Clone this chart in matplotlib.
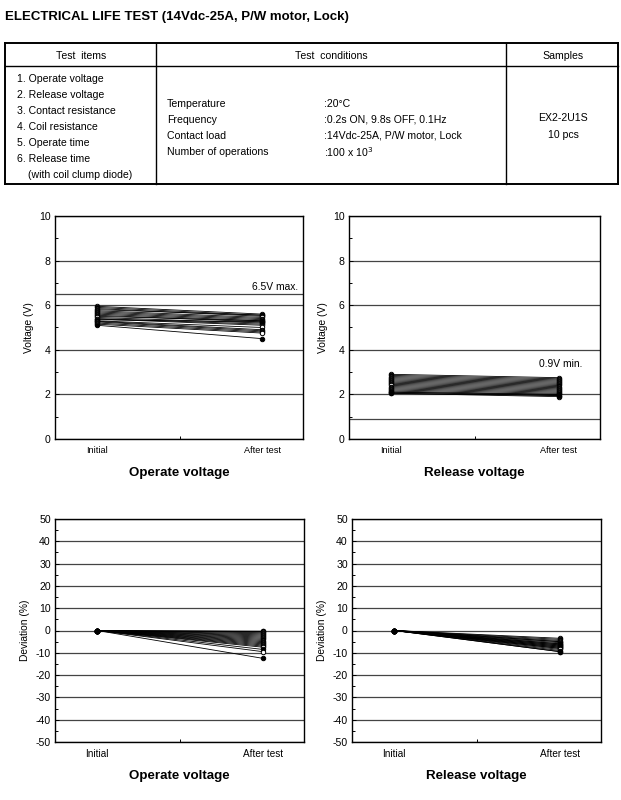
import matplotlib.pyplot as plt
from matplotlib.ticker import MultipleLocator, FixedLocator
from matplotlib.lines import Line2D

plt.rcParams['font.family'] = ['Liberation Sans', 'DejaVu Sans']
plt.rcParams['axes.unicode_minus'] = False

W, H = 621, 800

# data (20 lines per chart)
etapas = ["Initial", "After test"]
op_inicial = [5.95, 5.9, 5.85, 5.8, 5.75, 5.7, 5.65, 5.6, 5.55, 5.5,
              5.45, 5.4, 5.38, 5.35, 5.3, 5.28, 5.25, 5.2, 5.15, 5.1]
op_despues = [5.6, 5.55, 5.5, 5.55, 5.45, 5.4, 5.35, 5.3, 5.25, 5.3,
              5.2, 5.15, 5.1, 5.25, 5.0, 4.9, 4.85, 4.8, 4.75, 4.5]
rel_inicial = [2.9, 2.85, 2.8, 2.75, 2.7, 2.65, 2.6, 2.55, 2.5, 2.45,
               2.4, 2.35, 2.3, 2.25, 2.2, 2.15, 2.1, 2.1, 2.05, 2.05]
rel_despues = [2.75, 2.7, 2.65, 2.6, 2.55, 2.5, 2.45, 2.4, 2.35, 2.3,
               2.25, 2.2, 2.15, 2.1, 2.05, 2.0, 1.95, 2.0, 1.9, 1.95]
op_desv = [0, -0.3, -0.5, -1, -1.5, -2, -2.5, -3, -3.5, -4,
           -4.5, -5, -5.5, -6, -6.5, -7, -7.5, -8.5, -9.5, -12.5]
rel_desv = [-3.5, -4, -4.5, -5, -5, -5.5, -6, -6, -6.5, -6.5,
            -7, -7, -7.5, -7.5, -8, -8, -8.5, -9, -9.5, -9.5]

items = ["1. Operate voltage", "2. Release voltage", "3. Contact resistance",
         "4. Coil resistance", "5. Operate time", "6. Release time"]
cond_nombres = ["Temperature", "Frequency", "Contact load", "Number of operations"]
cond_valores = [":20°C", ":0.2s ON, 9.8s OFF, 0.1Hz", ":14Vdc-25A, P/W motor, Lock",
                ":100 x 10$^{3}$"]

fig = plt.figure(figsize=(W / 100, H / 100), dpi=100)


def px(x, y):
    return x / W, 1 - y / H


def rect(l, t, r, b):
    return [l / W, 1 - b / H, (r - l) / W, (b - t) / H]


# titulo
fig.text(*px(5, 17), "ELECTRICAL LIFE TEST (14Vdc-25A, P/W motor, Lock)",
         fontsize=9.5, fontweight='bold', va='center', ha='left')

# tabla
def linea(x0, y0, x1, y1, lw=0.8):
    fig.add_artist(Line2D([x0 / W, x1 / W], [1 - y0 / H, 1 - y1 / H], color='black', lw=lw))


linea(5, 43, 618, 43, 1.4)
linea(5, 184, 618, 184, 1.4)
linea(5, 43, 5, 184, 1.4)
linea(618, 43, 618, 184, 1.4)
linea(5, 66, 618, 66, 1.0)
linea(156, 43, 156, 184, 1.0)
linea(506, 43, 506, 184, 1.0)

fs = 7.6
fig.text(*px(81, 56), "Test  items", fontsize=fs, ha='center', va='center')
fig.text(*px(331, 56), "Test  conditions", fontsize=fs, ha='center', va='center')
fig.text(*px(563, 56), "Samples", fontsize=fs, ha='center', va='center')
for i, t in enumerate(items):
    fig.text(*px(17, 79 + i * 16), t, fontsize=fs, ha='left', va='center')
fig.text(*px(28, 175), "(with coil clump diode)", fontsize=fs, ha='left', va='center')
for i in range(len(cond_nombres)):
    fig.text(*px(167, 104 + i * 16), cond_nombres[i], fontsize=fs, ha='left', va='center')
    fig.text(*px(324, 104 + i * 16), cond_valores[i], fontsize=fs, ha='left', va='center')
fig.text(*px(563, 118), "EX2-2U1S", fontsize=fs, ha='center', va='center')
fig.text(*px(563, 135), "10 pcs", fontsize=fs, ha='center', va='center')


def grafica(r, inicial, despues, ylim, paso, ylabel, titulo, limite=None, texto=None, tx=None, ty=None,
            xfs=6.6):
    ax = fig.add_axes(rect(*r))
    for k in range(len(inicial)):
        cara = 'white' if k % 2 == 0 else 'black'
        ax.plot([0, 1], [inicial[k], despues[k]], color='black', lw=0.6,
                marker='o', ms=3.2, mfc=cara, mec='black', mew=0.7, zorder=3)
    ax.set_xlim(-0.254, 1.247)
    ax.set_ylim(*ylim)
    ax.yaxis.set_major_locator(MultipleLocator(paso))
    ax.yaxis.set_minor_locator(MultipleLocator(paso / 2))
    ax.grid(axis='y', which='major', color='#444444', lw=0.9)
    if limite is not None:
        ax.axhline(limite, color='#444444', lw=0.9)
        ax.text(tx, ty, texto, transform=ax.get_yaxis_transform(), ha='right', va='center', fontsize=7.4)
    ax.set_xticks([0, 1])
    ax.set_xticklabels(etapas, fontsize=xfs)
    ax.xaxis.set_minor_locator(FixedLocator([0.5]))
    ax.tick_params(axis='x', which='major', length=0, pad=5)
    ax.tick_params(axis='x', which='minor', direction='in', length=2, width=0.7)
    ax.tick_params(axis='y', which='both', direction='in', width=0.7, labelsize=7.6, pad=3)
    ax.tick_params(axis='y', which='major', length=3)
    ax.tick_params(axis='y', which='minor', length=2)
    ax.set_ylabel(ylabel, fontsize=7.4, labelpad=4)
    for s in ax.spines.values():
        s.set_linewidth(1.0)
    cx = (r[0] + r[2]) / 2
    fig.text(*px(cx, r[3] + 34), titulo, fontsize=9.6, fontweight='bold', ha='center', va='center')
    return ax


grafica((55, 216, 303, 439), op_inicial, op_despues, (0, 10), 2, "Voltage (V)", "Operate voltage",
        limite=6.5, texto="6.5V max.", tx=0.98, ty=6.8)
grafica((349, 216, 600, 439), rel_inicial, rel_despues, (0, 10), 2, "Voltage (V)", "Release voltage",
        limite=0.9, texto="0.9V min.", tx=0.928, ty=3.36)
grafica((55, 519, 304, 742), [0] * len(op_desv), op_desv, (-50, 50), 10, "Deviation (%)", "Operate voltage",
        xfs=7.2)
grafica((352, 519, 601, 742), [0] * len(rel_desv), rel_desv, (-50, 50), 10, "Deviation (%)", "Release voltage",
        xfs=7.2)

plt.savefig('out.png', dpi=100)
